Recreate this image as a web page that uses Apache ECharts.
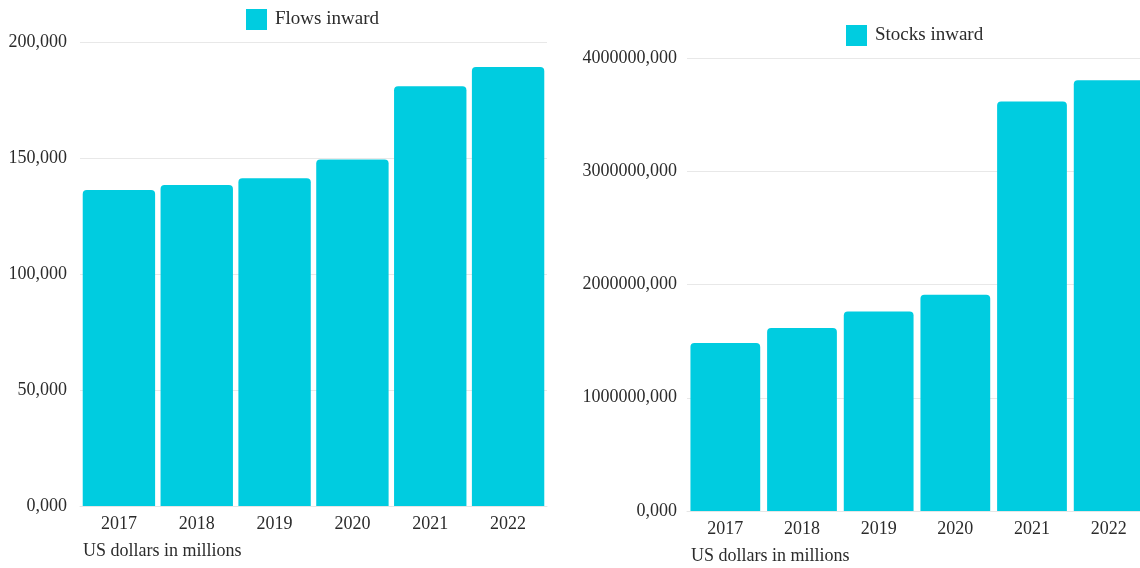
<!DOCTYPE html>
<html>
<head>
<meta charset="utf-8">
<script src="https://cdn.jsdelivr.net/npm/echarts@6/dist/echarts.min.js"></script>
<style>
  html, body { margin: 0; padding: 0; background: #fff; }
  #chart { width: 1140px; height: 568px; }
</style>
</head>
<body>
<div id="chart"></div>
<script>
// Inward foreign direct investment, US dollars in millions
const years = ['2017', '2018', '2019', '2020', '2021', '2022'];
const flowsInward = [136200, 138400, 141300, 149300, 180900, 189200];
const stocksInward = [1483000, 1615000, 1762000, 1909000, 3615000, 3803000];
const flowsTicks = { min: 0, max: 200000, interval: 50000 };
const stocksTicks = { min: 0, max: 4000000, interval: 1000000 };
const unitNote = 'US dollars in millions';

const FONT = '"Liberation Serif", "Times New Roman", serif';
const BAR = '#00CCE0';
const TEXT = '#2b2b2b';

// Left axis: comma before the last three digits; right axis: ",000" suffix
const fmtFlows = v => Math.floor(v / 1000) + ',' + String(v % 1000).padStart(3, '0');
const fmtStocks = v => v + ',000';

const chart = echarts.init(document.getElementById('chart'), null, { renderer: 'canvas' });

const axisX = (gridIndex) => ({
  type: 'category',
  gridIndex,
  data: years,
  axisTick: { show: false },
  axisLine: { show: true, lineStyle: { color: '#e6e6e6' } },
  axisLabel: { color: TEXT, fontFamily: FONT, fontSize: 18, margin: 9 }
});

const axisY = (gridIndex, ticks, fmt, margin) => ({
  type: 'value',
  gridIndex,
  min: ticks.min,
  max: ticks.max,
  interval: ticks.interval,
  axisLine: { show: false },
  axisTick: { show: false },
  splitLine: { lineStyle: { color: '#e8e8e8' } },
  axisLabel: { color: TEXT, fontFamily: FONT, fontSize: 18, margin, formatter: fmt }
});

const legendBase = {
  padding: 0,
  icon: 'rect',
  itemWidth: 21, itemHeight: 21, itemGap: 8,
  textStyle: { color: TEXT, fontFamily: FONT, fontSize: 19, padding: [0, 0, 0, 3] }
};

chart.setOption({
  animation: false,
  textStyle: { fontFamily: FONT },
  legend: [
    Object.assign({ data: ['Flows inward'], left: 246, top: 9 }, legendBase),
    Object.assign({ data: ['Stocks inward'], left: 846, top: 25 }, legendBase)
  ],
  grid: [
    { left: 80, top: 42, width: 467, height: 464, outerBoundsMode: 'none' },
    { left: 687, top: 58, width: 460, height: 453, outerBoundsMode: 'none' }
  ],
  xAxis: [axisX(0), axisX(1)],
  yAxis: [
    axisY(0, flowsTicks, fmtFlows, 13),
    axisY(1, stocksTicks, fmtStocks, 10)
  ],
  graphic: [
    {
      type: 'text', left: 83, top: 542,
      style: { text: unitNote, fill: TEXT, font: '18px ' + FONT }
    },
    {
      type: 'text', left: 691, top: 547,
      style: { text: unitNote, fill: TEXT, font: '18px ' + FONT }
    }
  ],
  series: [
    {
      name: 'Flows inward',
      type: 'bar',
      xAxisIndex: 0, yAxisIndex: 0,
      data: flowsInward,
      barCategoryGap: '7%',
      itemStyle: { color: BAR, borderRadius: [4, 4, 0, 0] }
    },
    {
      name: 'Stocks inward',
      type: 'bar',
      xAxisIndex: 1, yAxisIndex: 1,
      data: stocksInward,
      barCategoryGap: '9%',
      itemStyle: { color: BAR, borderRadius: [4, 4, 0, 0] }
    }
  ]
});
</script>
</body>
</html>
